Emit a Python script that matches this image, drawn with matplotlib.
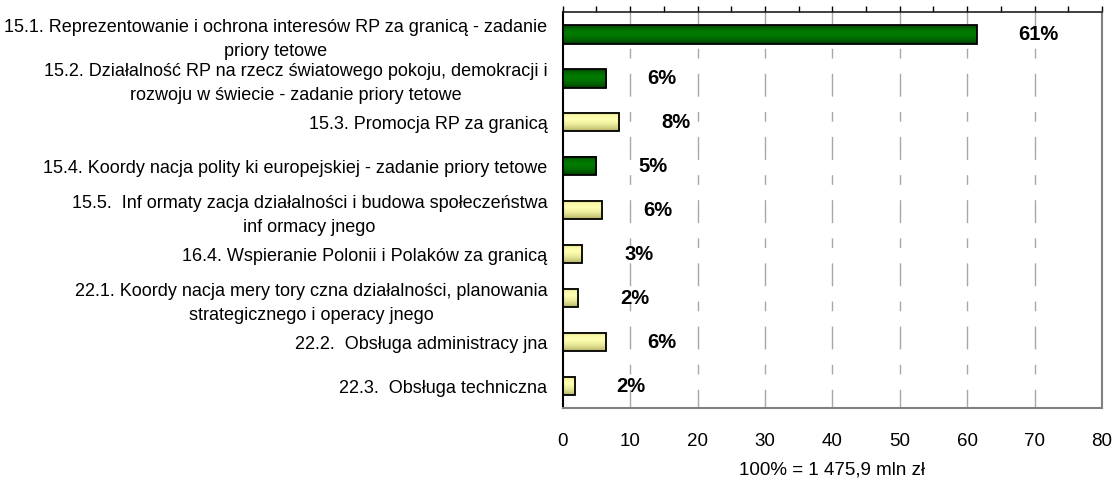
import numpy as np
import matplotlib
matplotlib.use("Agg")
import matplotlib.pyplot as plt
from matplotlib.ticker import MultipleLocator

plt.rcParams["font.family"] = ["Liberation Sans", "DejaVu Sans"]
plt.rcParams["lines.scale_dashes"] = False

# =====================================================
# Data: share of budget per task (% of 1 475,9 mln zł)
# =====================================================

categories = [
    "15.1. Reprezentowanie i ochrona interesów RP za granicą - zadanie\npriory tetowe",
    "15.2. Działalność RP na rzecz światowego pokoju, demokracji i\nrozwoju w świecie - zadanie priory tetowe",
    "15.3. Promocja RP za granicą",
    "15.4. Koordy nacja polity ki europejskiej - zadanie priory tetowe",
    "15.5.  Inf ormaty zacja działalności i budowa społeczeństwa\ninf ormacy jnego",
    "16.4. Wspieranie Polonii i Polaków za granicą",
    "22.1. Koordy nacja mery tory czna działalności, planowania\nstrategicznego i operacy jnego",
    "22.2.  Obsługa administracy jna",
    "22.3.  Obsługa techniczna",
]
shares = [61.4, 6.4, 8.4, 5.0, 5.8, 2.9, 2.3, 6.4, 1.8]
priority = [True, True, False, True, False, False, False, False, False]

x_label = "100% = 1 475,9 mln zł"

# =====================================================
# Bar shading (bottom -> top)
# =====================================================

green_shade = ["#003c00", "#006000", "#007400", "#007c00", "#006c00", "#004400"]
yellow_shade = ["#b4b464", "#d8d888", "#f0f0a0", "#ffffb4", "#fafaa8", "#dcdc90"]


def shade_array(colors, n=40):
    rgb = np.array([matplotlib.colors.to_rgb(c) for c in colors])
    pos = np.linspace(0, 1, len(colors))
    t = np.linspace(0, 1, n)
    out = np.stack([np.interp(t, pos, rgb[:, k]) for k in range(3)], axis=1)
    return out[:, None, :]


green_img = shade_array(green_shade)
yellow_img = shade_array(yellow_shade)

# =====================================================
# Plot
# =====================================================

fig = plt.figure(figsize=(11.17, 4.82), dpi=100)
ax = fig.add_axes([0.5038, 0.1535, 0.4827, 0.8215])

n = len(categories)
y_pos = np.arange(n)[::-1]
bar_h = 0.43

for y, val, prio in zip(y_pos, shares, priority):
    img = green_img if prio else yellow_img
    ax.imshow(
        img,
        extent=(0, val, y - bar_h / 2, y + bar_h / 2),
        origin="lower",
        aspect="auto",
        interpolation="bilinear",
        zorder=2,
    )

ax.barh(
    y_pos,
    shares,
    height=bar_h,
    facecolor="none",
    edgecolor="black",
    linewidth=1.3,
    zorder=3,
)

for y, val in zip(y_pos, shares):
    ax.text(
        val + 6.2,
        y,
        f"{val:.0f}%",
        ha="left",
        va="center",
        fontsize=14.5,
        fontweight="bold",
        zorder=4,
    )

ax.set_xlim(0, 80)
ax.set_ylim(-0.5, n - 0.5)

# dashed vertical grid
for gx in range(10, 80, 10):
    ax.axvline(
        gx,
        color="#a8a8a8",
        linewidth=1.0,
        linestyle=(3, (16.5, 11, 7, 11)),
        zorder=1,
    )

ax.set_yticks(y_pos)
ax.set_yticklabels(categories, fontsize=13)
for lbl in ax.get_yticklabels():
    lbl.set_multialignment("center")
    lbl.set_linespacing(1.55)
ax.tick_params(axis="y", length=0, pad=11)

ax.xaxis.set_major_locator(MultipleLocator(10))
ax.xaxis.set_minor_locator(MultipleLocator(5))
ax.tick_params(
    axis="x",
    which="both",
    bottom=False,
    top=True,
    direction="out",
    length=4,
    width=1,
    labelsize=13.5,
    pad=14,
)

ax.set_xlabel(x_label, fontsize=13.5, labelpad=8)

ax.spines["left"].set_color("black")
ax.spines["left"].set_linewidth(1.5)
ax.spines["top"].set_color("#202020")
ax.spines["top"].set_linewidth(1.2)
ax.spines["right"].set_color("#808080")
ax.spines["right"].set_linewidth(1.5)
ax.spines["bottom"].set_color("#808080")
ax.spines["bottom"].set_linewidth(1.5)

fig.savefig("out.png", dpi=100)
